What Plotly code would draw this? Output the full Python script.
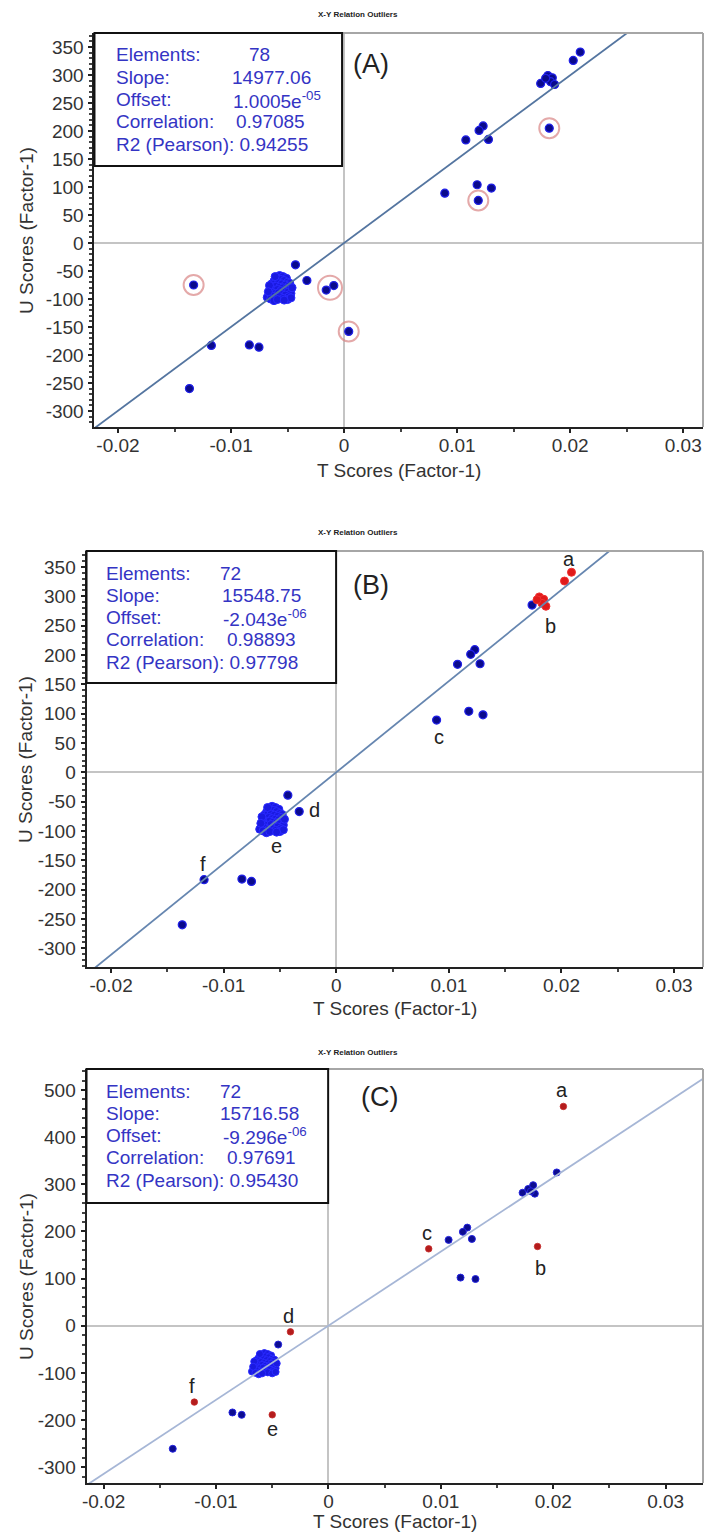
import plotly.graph_objects as go

W, H = 704, 1533

# ------------------------------------------------------------------ data
# dense group of samples around (-0.0057, -80); last entry is sample "e"
cluster_t = [-0.0060, -0.0057, -0.0054, -0.0051, -0.0062, -0.0059, -0.0056, -0.0053, -0.0050, -0.0048,
             -0.0064, -0.0061, -0.0058, -0.0055, -0.0052, -0.0049, -0.0063, -0.0060, -0.0057, -0.0054,
             -0.0051, -0.0048, -0.0065, -0.0062, -0.0059, -0.0056, -0.0053, -0.0050, -0.0047, -0.0064,
             -0.0061, -0.0058, -0.0055, -0.0052, -0.0049, -0.0066, -0.0063, -0.0060, -0.0057, -0.0054,
             -0.0068, -0.0065, -0.0062, -0.0059, -0.0050, -0.0047, -0.0061, -0.0066, -0.0067, -0.0046,
             -0.0053]
cluster_u = [-62, -58, -60, -63, -68, -66, -65, -67, -70, -72,
             -73, -72, -71, -73, -75, -77, -78, -77, -79, -80,
             -81, -83, -82, -84, -83, -85, -86, -88, -90, -88,
             -90, -89, -92, -93, -96, -93, -95, -97, -96, -99,
             -97, -100, -103, -101, -101, -98, -60, -76, -87, -80,
             -102]

# remaining blue samples of panel B (order: b-blue, 4 upper, 2 lower, c, -39, d, f, 2 mid, bottom)
spread_t = [0.01739, 0.01230, 0.01194, 0.01077, 0.01277, 0.01177, 0.01303, 0.00891,
            -0.00430, -0.00329, -0.01174, -0.00838, -0.00753, -0.01368]
spread_u = [285, 209, 201, 184, 185, 104, 98, 89, -39, -67, -183, -182, -186, -260]

# panel B outliers shown in red (a: 2 samples, b: 5 samples)
b_red_t = [0.02089, 0.02027, 0.01803, 0.01842, 0.01827, 0.01862, 0.01783]
b_red_u = [341, 326, 299, 295, 288, 283, 294]

# extra samples present only in panel A (circled outliers)
a_extra_t = [-0.01331, -0.00158, -0.00091, 0.00041, 0.01187, 0.01815]
a_extra_u = [-75, -84, -76, -158, 76, 205]
a_circle_groups = [[0], [1, 2], [3], [4], [5]]

# panel C
c_cluster_t = cluster_t[:50]
c_cluster_u = cluster_u[:50]
c_blue_t = [0.02031, 0.01727, 0.01777, 0.01821, 0.01836, 0.01801,
            0.01069, 0.01235, 0.01196, 0.01276, 0.01175, 0.01308,
            -0.00447, -0.00854, -0.00772, -0.01385]
c_blue_u = [325, 282, 290, 298, 280, 285,
            182, 208, 199, 184, 102, 99,
            -40, -184, -189, -261]
c_red_t = [0.02090, 0.01860, 0.00892, -0.00338, -0.00500, -0.01193]
c_red_u = [465, 168, 163, -13, -189, -162]
outlier_labels = ["a", "b", "c", "d", "e", "f"]

# regression statistics
elements = [78, 72, 72]
slopes = [14977.06, 15548.75, 15716.58]
offsets = [1.0005e-05, -2.043e-06, -9.296e-06]
offset_text = ["1.0005e<sup>-05</sup>", "-2.043e<sup>-06</sup>", "-9.296e<sup>-06</sup>"]
correlations = ["0.97085", "0.98893", "0.97691"]
r2_pearson = ["0.94255", "0.97798", "0.95430"]
panel_tags = ["(A)", "(B)", "(C)"]

x_ticks = [-0.02, -0.01, 0, 0.01, 0.02, 0.03]
x_tick_text = ["-0.02", "-0.01", "0", "0.01", "0.02", "0.03"]
y_ticks_ab = [350, 300, 250, 200, 150, 100, 50, 0, -50, -100, -150, -200, -250, -300]
y_tick_text_ab = ["350", "300", "250", "200", "150", "100", "50", "0", "-50", "-100",
                  "-150", "-200", "-250", "-300"]
y_ticks_c = [500, 400, 300, 200, 100, 0, -100, -200, -300]
y_tick_text_c = ["500", "400", "300", "200", "100", "0", "-100", "-200", "-300"]

# ------------------------------------------------------------------ layout geometry (pixels)
panels = [
    dict(left=91, right=703, top=33, bottom=427, xr=[-0.02208, 0.03175], yr=[-328.6, 375],
         yt=y_ticks_ab, ytt=y_tick_text_ab, ymin=10, title_y=15, xtitle_y=471,
         box=(91, 340, 33, 166), rows_y=55, lab_x=111, val_x=[244, 227, 228, 231],
         tag=(349, 64), line_col="#5475a0"),
    dict(left=83, right=703, top=551, bottom=967, xr=[-0.02218, 0.03257], yr=[-331.9, 377.2],
         yt=y_ticks_ab, ytt=y_tick_text_ab, ymin=10, title_y=532, xtitle_y=1008,
         box=(83, 334, 551, 683), rows_y=573, lab_x=101, val_x=[215, 217, 218, 222],
         tag=(349, 585), line_col="#6686b0"),
    dict(left=83, right=703, top=1069, bottom=1483, xr=[-0.02152, 0.03332], yr=[-333.6, 544.4],
         yt=y_ticks_c, ytt=y_tick_text_c, ymin=20, title_y=1052, xtitle_y=1521,
         box=(83, 326, 1069, 1203), rows_y=1091, lab_x=101, val_x=[215, 215, 218, 222],
         tag=(357, 1097), line_col="#a6b6d6"),
]


def fx(p):
    return p / W


def fy(p):
    return 1 - p / H


fig = go.Figure()
FONT = "Liberation Sans, Arial, sans-serif"
TXT = "#333333"
BLUE_TXT = "#3434c4"
NAVY = dict(color="#0a0a8c", line=dict(color="#2020e8", width=1.2))
BRIGHT = dict(color="#1a1ae0", line=dict(color="#2a2aff", width=1))

shapes = []
annotations = []

for i, p in enumerate(panels):
    xa = "x" if i == 0 else f"x{i+1}"
    ya = "y" if i == 0 else f"y{i+1}"
    xkey = "xaxis" if i == 0 else f"xaxis{i+1}"
    ykey = "yaxis" if i == 0 else f"yaxis{i+1}"

    fig.layout[xkey] = dict(
        domain=[fx(p["left"]), fx(p["right"])], range=p["xr"], anchor=ya,
        tickmode="array", tickvals=x_ticks, ticktext=x_tick_text,
        ticks="outside", ticklen=4, tickwidth=1.5, tickcolor="#222",
        minor=dict(tickmode="linear", tick0=0, dtick=0.005, ticks="outside", ticklen=3, tickcolor="#444"),
        showline=True, linecolor="#222", linewidth=2, showgrid=False,
        zeroline=True, zerolinecolor="#c4c4c4", zerolinewidth=2,
        tickfont=dict(family=FONT, size=19, color=TXT), fixedrange=True,
        ticklabelstandoff=-4,
    )
    fig.layout[ykey] = dict(
        domain=[fy(p["bottom"]), fy(p["top"])], range=p["yr"], anchor=xa,
        tickmode="array", tickvals=p["yt"], ticktext=p["ytt"],
        ticks="outside", ticklen=4, tickwidth=1.5, tickcolor="#222",
        minor=dict(tickmode="linear", tick0=0, dtick=p["ymin"], ticks="outside", ticklen=3, tickcolor="#444"),
        showline=True, linecolor="#222", linewidth=2, showgrid=False,
        zeroline=True, zerolinecolor="#c4c4c4", zerolinewidth=2,
        tickfont=dict(family=FONT, size=19, color=TXT), fixedrange=True,
        ticklabelstandoff=1,
    )

    # data
    if i == 0:
        fig.add_trace(go.Scatter(x=cluster_t, y=cluster_u, mode="markers", xaxis=xa, yaxis=ya,
                                 marker=dict(size=8, **BRIGHT)))
        bt = spread_t + b_red_t + a_extra_t
        bu = spread_u + b_red_u + a_extra_u
        fig.add_trace(go.Scatter(x=bt, y=bu, mode="markers", xaxis=xa, yaxis=ya,
                                 marker=dict(size=8, **NAVY)))
        ct = [sum(a_extra_t[k] for k in g) / len(g) for g in a_circle_groups]
        cu = [sum(a_extra_u[k] for k in g) / len(g) for g in a_circle_groups]
        cs = [20 if len(g) == 1 else 24 for g in a_circle_groups]
        fig.add_trace(go.Scatter(x=ct, y=cu, mode="markers", xaxis=xa, yaxis=ya,
                                 marker=dict(size=cs, symbol="circle-open", color="#d88484",
                                             line=dict(color="#d88484", width=2))))
    elif i == 1:
        fig.add_trace(go.Scatter(x=cluster_t, y=cluster_u, mode="markers", xaxis=xa, yaxis=ya,
                                 marker=dict(size=8, **BRIGHT)))
        fig.add_trace(go.Scatter(x=spread_t, y=spread_u, mode="markers", xaxis=xa, yaxis=ya,
                                 marker=dict(size=8, **NAVY)))
        fig.add_trace(go.Scatter(x=b_red_t, y=b_red_u, mode="markers", xaxis=xa, yaxis=ya,
                                 marker=dict(size=8, color="#e01a1a", line=dict(color="#f03030", width=1))))
        # labels a..f anchored at samples
        anchors = [(b_red_t[0], b_red_u[0], -2, 13), (b_red_t[3], b_red_u[3], 7, -27),
                   (spread_t[7], spread_u[7], 2, -17), (spread_t[9], spread_u[9], 15, 2),
                   (cluster_t[50], cluster_u[50], 0, -14), (spread_t[10], spread_u[10], -1, 16)]
        for lab, (tx, ty, dx, dy) in zip(outlier_labels, anchors):
            annotations.append(dict(x=tx, y=ty, xref=xa, yref=ya, text=lab, showarrow=False,
                                    xshift=dx, yshift=dy, font=dict(family=FONT, size=20, color="#222")))
    else:
        fig.add_trace(go.Scatter(x=c_cluster_t, y=c_cluster_u, mode="markers", xaxis=xa, yaxis=ya,
                                 marker=dict(size=7, **BRIGHT)))
        fig.add_trace(go.Scatter(x=c_blue_t, y=c_blue_u, mode="markers", xaxis=xa, yaxis=ya,
                                 marker=dict(size=7, color="#0c0c90", line=dict(color="#2424e0", width=1))))
        fig.add_trace(go.Scatter(x=c_red_t, y=c_red_u, mode="markers", xaxis=xa, yaxis=ya,
                                 marker=dict(size=6.5, color="#b41c1c", line=dict(color="#c42a2a", width=0.8))))
        shifts = [(-1, 16), (3, -22), (-2, 16), (-2, 16), (0, -14), (-2, 16)]
        for lab, tx, ty, (dx, dy) in zip(outlier_labels, c_red_t, c_red_u, shifts):
            annotations.append(dict(x=tx, y=ty, xref=xa, yref=ya, text=lab, showarrow=False,
                                    xshift=dx, yshift=dy, font=dict(family=FONT, size=20, color="#222")))

    # regression line y = slope * t + offset across the axis range
    lx = p["xr"]
    ly = [slopes[i] * v + offsets[i] for v in lx]
    fig.add_trace(go.Scatter(x=lx, y=ly, mode="lines", xaxis=xa, yaxis=ya,
                             line=dict(color=p["line_col"], width=1.8), hoverinfo="skip"))

    # gray top / right frame
    shapes.append(dict(type="line", xref="paper", yref="paper", x0=fx(p["left"]), x1=fx(p["right"]),
                       y0=fy(p["top"]), y1=fy(p["top"]), line=dict(color="#a6a6a6", width=2)))
    shapes.append(dict(type="line", xref="paper", yref="paper", x0=fx(p["right"]), x1=fx(p["right"]),
                       y0=fy(p["top"]), y1=fy(p["bottom"]), line=dict(color="#a6a6a6", width=2)))
    # info box
    bx0, bx1, by0, by1 = p["box"]
    shapes.append(dict(type="rect", xref="paper", yref="paper", x0=fx(bx0), x1=fx(bx1),
                       y0=fy(by0), y1=fy(by1), fillcolor="white", line=dict(color="#111", width=2),
                       layer="above"))
    labels = ["Elements:", "Slope:", "Offset:", "Correlation:"]
    values = [str(elements[i]), f"{slopes[i]:.2f}", offset_text[i], correlations[i]]
    for r, (lab, val) in enumerate(zip(labels, values)):
        yy = p["rows_y"] + 22.3 * r
        annotations.append(dict(x=fx(p["lab_x"]), y=fy(yy), xref="paper", yref="paper", text=lab,
                                showarrow=False, xanchor="left", yanchor="middle",
                                font=dict(family=FONT, size=19, color=BLUE_TXT)))
        annotations.append(dict(x=fx(p["val_x"][r]), y=fy(yy), xref="paper", yref="paper", text=val,
                                showarrow=False, xanchor="left", yanchor="middle",
                                font=dict(family=FONT, size=19, color=BLUE_TXT)))
    annotations.append(dict(x=fx(p["lab_x"]), y=fy(p["rows_y"] + 22.3 * 4), xref="paper", yref="paper",
                            text=f"R2 (Pearson): {r2_pearson[i]}", showarrow=False,
                            xanchor="left", yanchor="middle",
                            font=dict(family=FONT, size=19, color=BLUE_TXT)))
    # panel tag
    annotations.append(dict(x=fx(p["tag"][0]), y=fy(p["tag"][1]), xref="paper", yref="paper",
                            text=panel_tags[i], showarrow=False, xanchor="left", yanchor="middle",
                            font=dict(family=FONT, size=27, color="#222")))
    # small chart title
    annotations.append(dict(x=fx(356), y=fy(p["title_y"]), xref="paper", yref="paper",
                            text="<b>X-Y Relation Outliers</b>", showarrow=False,
                            xanchor="center", yanchor="middle",
                            font=dict(family=FONT, size=8, color="#222")))
    # axis titles
    annotations.append(dict(x=fx((p["left"] + p["right"]) / 2), y=fy(p["xtitle_y"]), xref="paper",
                            yref="paper", text="T Scores (Factor-1)", showarrow=False,
                            xanchor="center", yanchor="middle",
                            font=dict(family=FONT, size=19, color=TXT)))
    annotations.append(dict(x=fx(22), y=fy((p["top"] + p["bottom"]) / 2), xref="paper",
                            yref="paper", text="U Scores (Factor-1)", showarrow=False, textangle=-90,
                            xanchor="center", yanchor="middle",
                            font=dict(family=FONT, size=19, color=TXT)))

fig.update_layout(
    width=W, height=H, margin=dict(l=0, r=0, t=0, b=0),
    paper_bgcolor="white", plot_bgcolor="white", showlegend=False,
    shapes=shapes, annotations=annotations, hovermode=False,
)
fig.write_html("out.html", config=dict(displayModeBar=False),
               post_script="document.body.style.margin='0';document.body.style.overflow='hidden';")
